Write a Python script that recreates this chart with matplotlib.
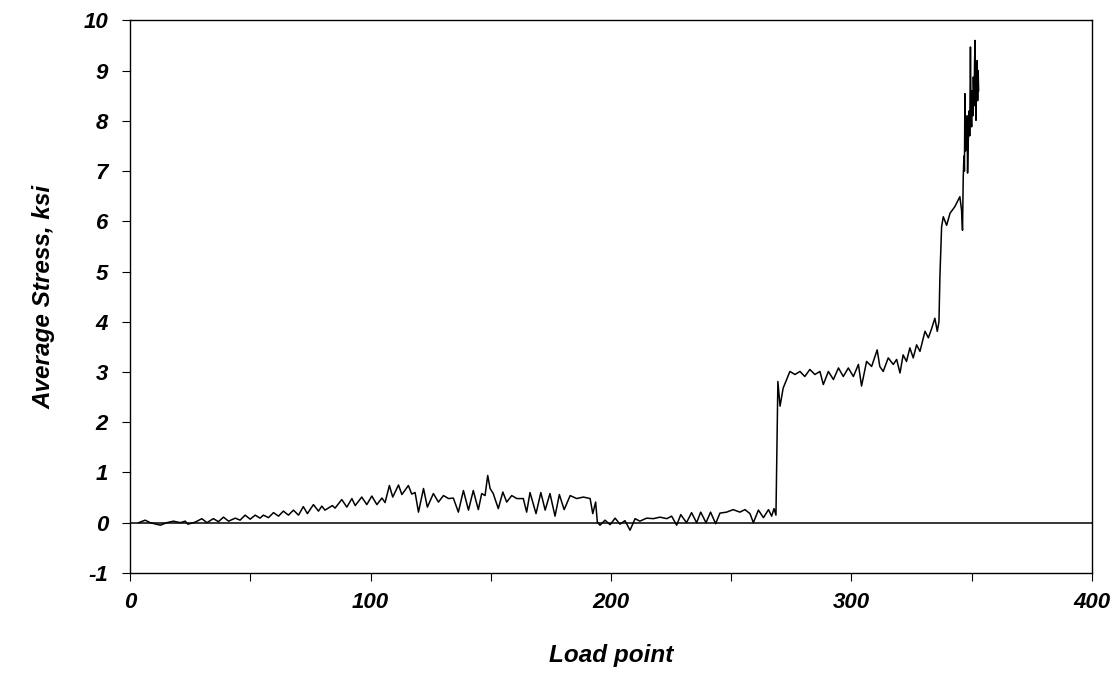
import matplotlib.pyplot as plt
from matplotlib.ticker import MultipleLocator

# load point / average stress (ksi)
load_pts = [3.5, 6.2, 8.3, 12.5, 15.2, 18.0, 20.8, 22.9, 24.0, 27.0, 29.8, 31.9,
            34.6, 36.7, 38.8, 40.9, 43.7, 45.7, 47.8, 49.9, 52.0, 54.0, 55.4, 57.5,
            59.6, 61.7, 63.7, 65.8, 67.9, 70.0, 72.0, 73.7, 76.2, 78.3, 79.7, 81.0,
            84.1, 85.2, 88.0, 90.1, 92.2, 93.6, 96.3, 98.4, 100.5, 102.6, 104.7, 106.0,
            107.8, 109.2, 111.6, 113.0, 115.7, 117.1, 118.5, 119.9, 122.0, 123.6,
            126.1, 128.2, 130.3, 132.4, 134.4, 136.5, 138.6, 140.7, 142.7, 144.8,
            146.2, 147.6, 148.7, 149.7, 151.0, 153.1, 155.0, 156.6, 158.7, 160.8,
            163.5, 164.9, 166.3, 168.8, 170.8, 172.6, 174.6, 176.7, 178.5, 180.5,
            183.0, 185.7, 188.5, 191.3, 192.4, 193.6, 194.3, 195.4, 197.5, 199.6,
            201.7, 203.7, 205.8, 207.9, 210.0, 212.0, 214.8, 217.6, 220.4, 223.2,
            225.2, 227.3, 229.0, 231.4, 233.5, 235.6, 237.3, 239.5, 241.4, 243.5,
            245.3, 248.1, 250.8, 253.6, 255.7, 257.8, 259.2, 261.3, 263.4, 265.5,
            266.8, 267.8, 268.6, 269.4, 270.3, 271.6, 274.4, 276.5, 278.6, 280.6,
            282.7, 284.8, 286.9, 288.3, 290.4, 292.5, 294.6, 296.6, 298.7, 300.8,
            302.9, 304.2, 306.3, 308.4, 310.7, 311.8, 313.2, 315.3, 317.4, 318.8,
            320.2, 321.5, 322.9, 324.3, 325.7, 327.1, 328.5, 330.6, 332.0, 333.4,
            334.7, 335.7, 336.4, 336.8, 337.5, 338.2, 339.6, 341.0, 343.0, 345.1,
            345.8, 346.2, 346.5, 346.8, 347.0, 347.2, 347.5, 347.7, 347.9, 348.1,
            348.3, 348.6, 349.0, 349.2, 349.5, 349.7, 350.0, 350.2, 350.5, 350.7,
            351.0, 351.2, 351.4, 351.6, 351.8, 352.0, 352.3, 352.5, 352.7, 352.9]
avg_stress = [0.0, 0.05, 0.0, -0.05, 0.0, 0.03, 0.0, 0.03, -0.03, 0.01, 0.08, 0.0,
              0.08, 0.02, 0.11, 0.03, 0.09, 0.05, 0.15, 0.07, 0.15, 0.09, 0.15, 0.1,
              0.2, 0.13, 0.23, 0.15, 0.25, 0.15, 0.32, 0.18, 0.36, 0.23, 0.33, 0.25,
              0.34, 0.29, 0.46, 0.31, 0.48, 0.34, 0.51, 0.36, 0.53, 0.36, 0.49, 0.4,
              0.74, 0.51, 0.75, 0.56, 0.74, 0.57, 0.6, 0.21, 0.68, 0.31,
              0.58, 0.41, 0.54, 0.48, 0.49, 0.21, 0.64, 0.25, 0.64, 0.26,
              0.58, 0.54, 0.94, 0.68, 0.58, 0.28, 0.61, 0.41, 0.54, 0.48,
              0.48, 0.21, 0.6, 0.18, 0.6, 0.25, 0.58, 0.13, 0.56, 0.26,
              0.54, 0.48, 0.51, 0.48, 0.18, 0.41, 0.01, -0.05, 0.05, -0.04,
              0.09, -0.03, 0.04, -0.15, 0.08, 0.03, 0.09, 0.08, 0.11, 0.08,
              0.13, -0.05, 0.16, 0.0, 0.2, 0.0, 0.21, 0.0, 0.21, -0.02,
              0.19, 0.21, 0.26, 0.21, 0.26, 0.18, 0.0, 0.25, 0.1, 0.26,
              0.13, 0.28, 0.15, 2.81, 2.32, 2.68, 3.01, 2.95, 3.01, 2.91,
              3.05, 2.95, 3.01, 2.75, 3.01, 2.85, 3.08, 2.91, 3.08, 2.91,
              3.15, 2.72, 3.21, 3.11, 3.44, 3.11, 3.01, 3.28, 3.15, 3.25,
              2.98, 3.34, 3.21, 3.48, 3.28, 3.54, 3.41, 3.81, 3.68, 3.87,
              4.07, 3.81, 4.0, 4.9, 5.89, 6.09, 5.92, 6.16, 6.29, 6.49,
              6.22, 5.82, 6.88, 7.3, 7.0, 8.54, 7.4, 7.9, 7.55, 8.1,
              6.96, 7.6, 8.2, 7.7, 9.47, 8.3, 7.88, 8.6, 8.1, 8.87,
              8.3, 9.1, 9.6, 8.5, 8.01, 8.8, 9.2, 8.4, 9.0, 8.6]

x_labels = ['0', '100', '200', '300', '400']
y_labels = ['-1', '0', '1', '2', '3', '4', '5', '6', '7', '8', '9', '10']

plt.rcParams['font.family'] = ['Liberation Sans', 'DejaVu Sans']

fig = plt.figure(figsize=(11.13, 6.78), dpi=100)
ax = fig.add_axes([0.117, 0.155, 0.864, 0.815])

ax.plot(load_pts, avg_stress, color='black', lw=1.1)
ax.axhline(0, color='black', lw=1.1)

ax.set_xlim(0, 400)
ax.set_ylim(-1, 10)
ax.set_xticks(range(0, 401, 100))
ax.set_xticklabels(x_labels)
ax.xaxis.set_minor_locator(MultipleLocator(50))
ax.set_yticks(range(-1, 11))
ax.set_yticklabels(y_labels)

for lbl in ax.get_xticklabels() + ax.get_yticklabels():
    lbl.set_fontweight('bold')
    lbl.set_fontstyle('italic')
    lbl.set_fontsize(16)

ax.tick_params(axis='both', which='both', direction='out', length=6, width=0.8)
ax.tick_params(axis='x', pad=8)
ax.tick_params(axis='y', pad=10)

ax.set_xlabel('Load point', fontsize=17.5, fontweight='bold', style='italic', labelpad=22)
ax.set_ylabel('Average Stress, ksi', fontsize=17.5, fontweight='bold', style='italic', labelpad=20)

for s in ax.spines.values():
    s.set_linewidth(1.0)

fig.savefig('out.png', dpi=100)
